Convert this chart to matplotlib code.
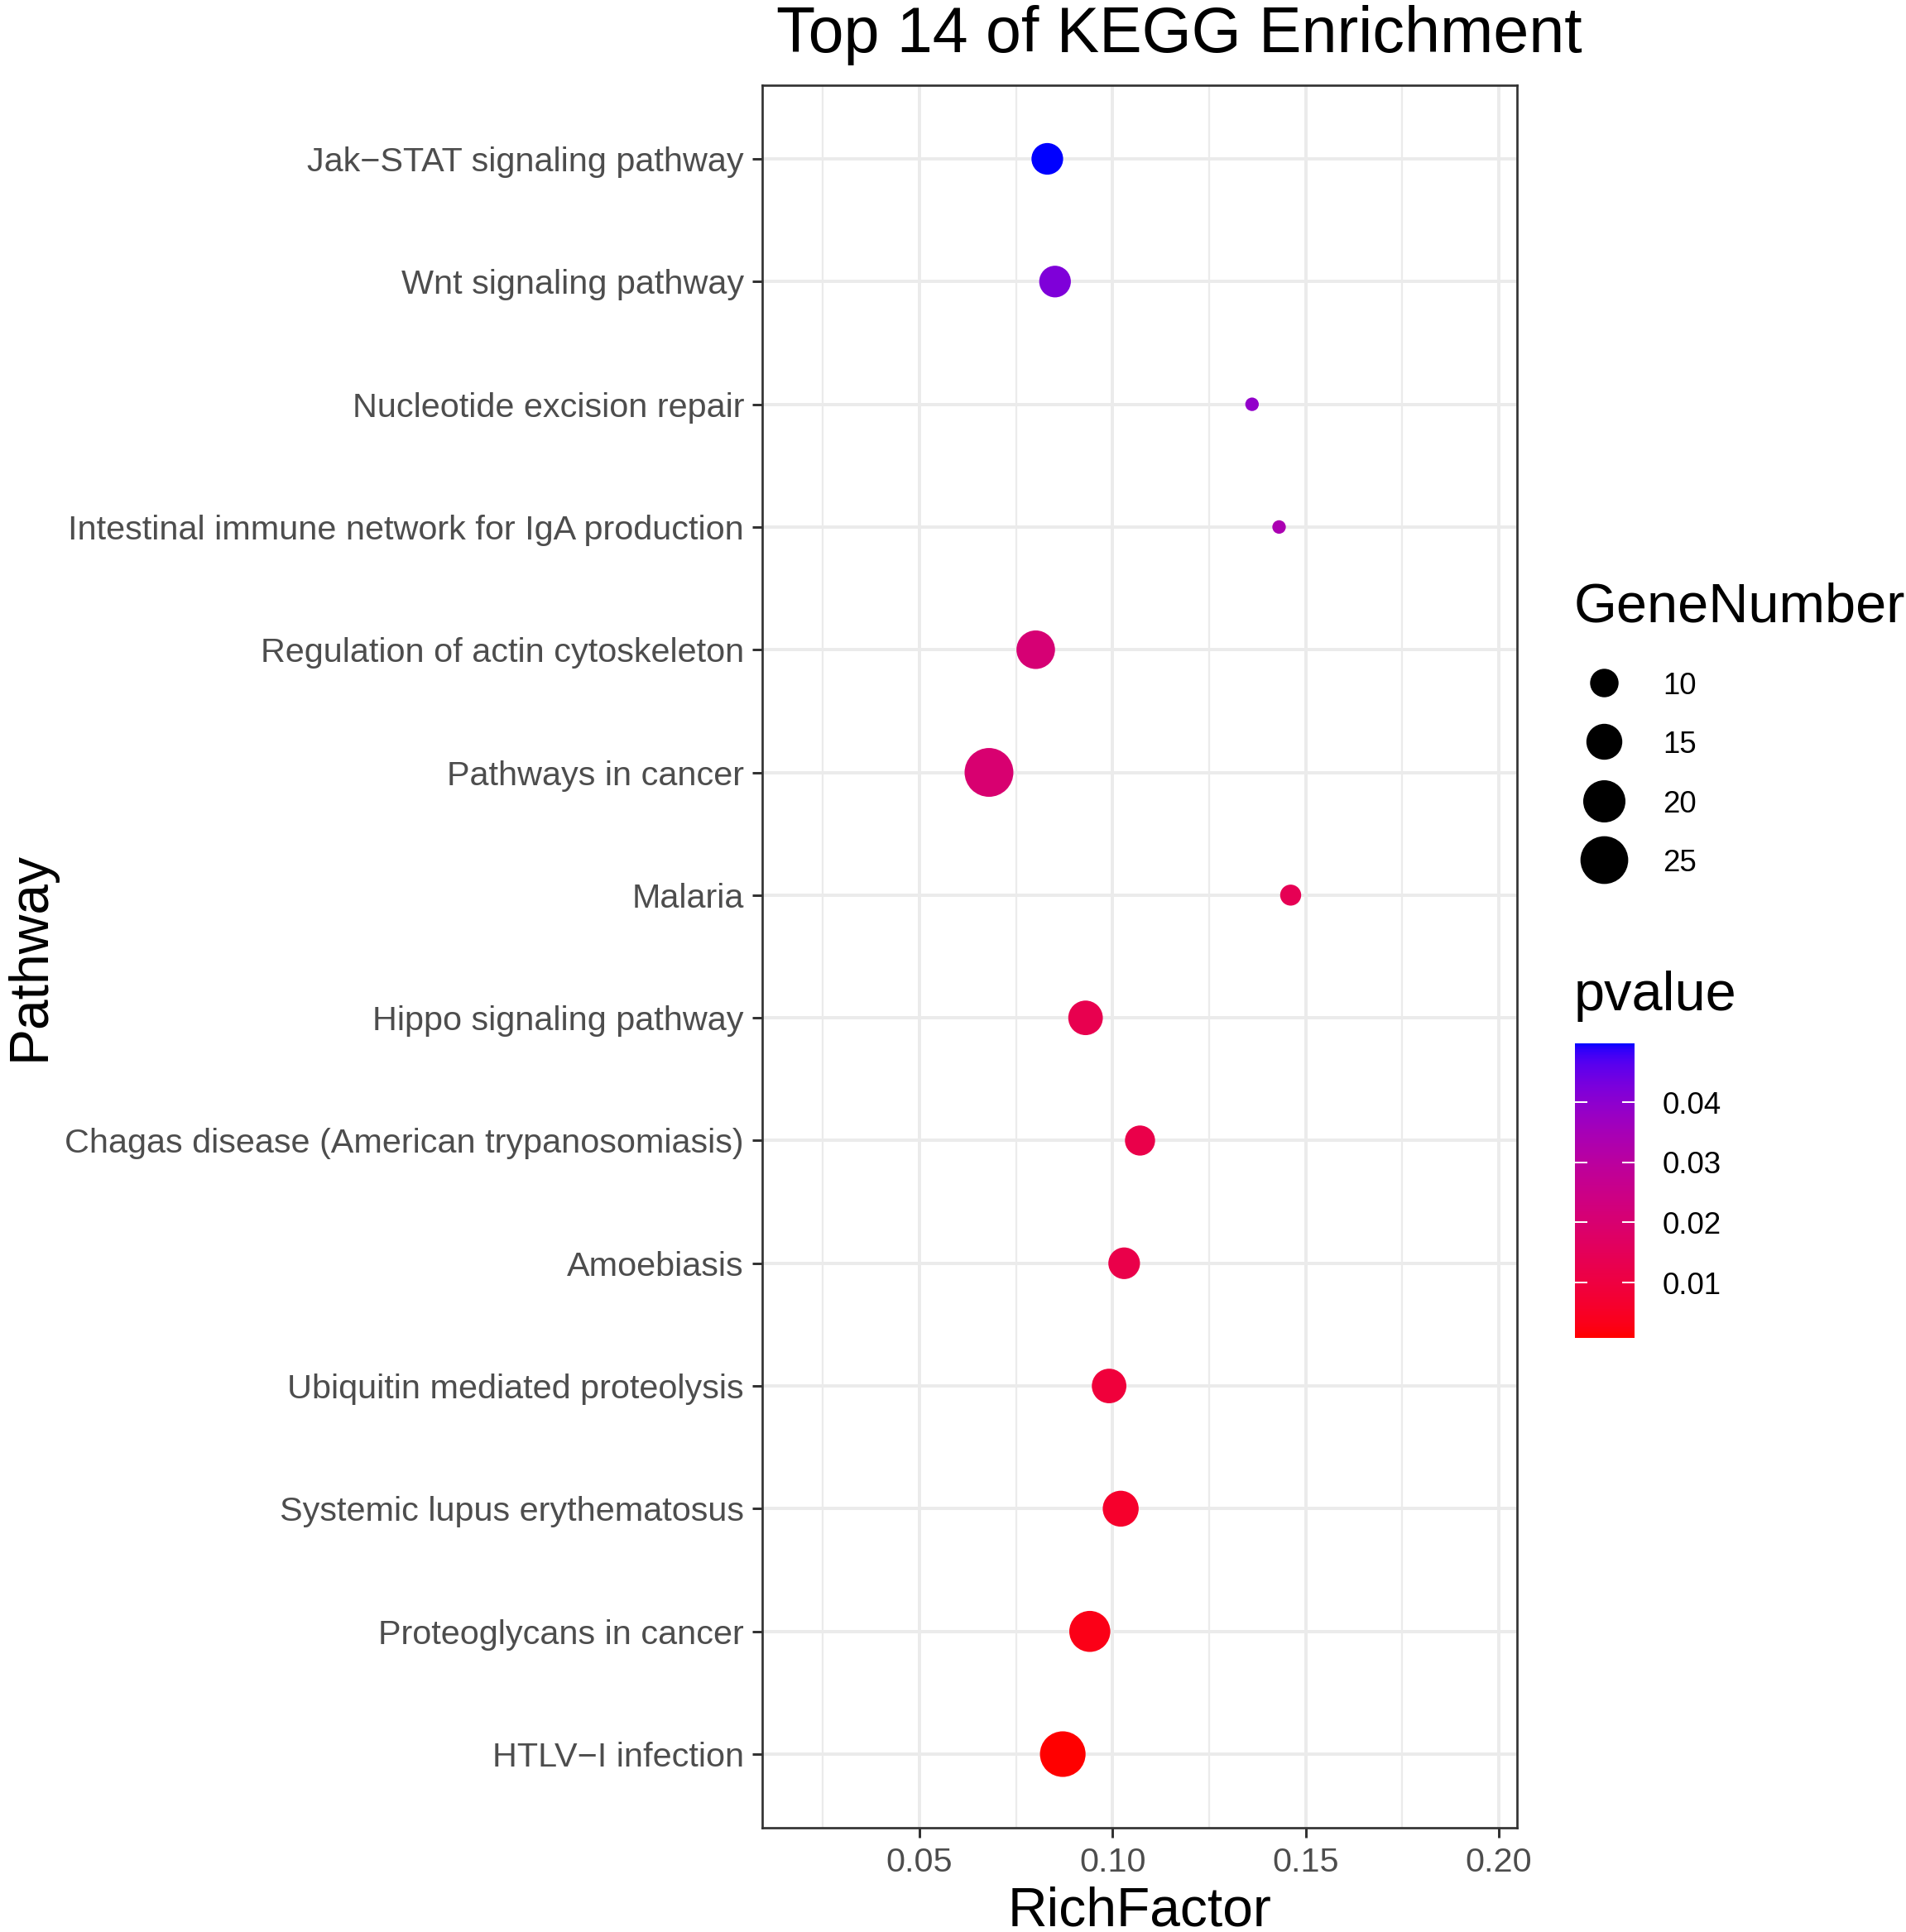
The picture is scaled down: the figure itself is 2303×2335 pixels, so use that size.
import numpy as np
import matplotlib
matplotlib.use("Agg")
import matplotlib.pyplot as plt
from matplotlib.colors import ListedColormap, Normalize
from matplotlib.ticker import MultipleLocator, FormatStrFormatter

plt.rcParams['font.family'] = ['Liberation Sans', 'DejaVu Sans']

# data, top row first
pathway = [
    "Jak\u2212STAT signaling pathway",
    "Wnt signaling pathway",
    "Nucleotide excision repair",
    "Intestinal immune network for IgA production",
    "Regulation of actin cytoskeleton",
    "Pathways in cancer",
    "Malaria",
    "Hippo signaling pathway",
    "Chagas disease (American trypanosomiasis)",
    "Amoebiasis",
    "Ubiquitin mediated proteolysis",
    "Systemic lupus erythematosus",
    "Proteoglycans in cancer",
    "HTLV\u2212I infection",
]
rich_factor = [0.0831, 0.0851, 0.1361, 0.1431, 0.0801, 0.0680, 0.1461,
               0.0930, 0.1071, 0.1030, 0.0991, 0.1021, 0.0941, 0.0871]
gene_number = [12, 12, 3, 3, 17, 26, 6, 14, 11, 12, 14, 15, 19, 23]
pvalue = [0.0498, 0.042, 0.039, 0.034, 0.021, 0.020, 0.014,
          0.013, 0.012, 0.012, 0.009, 0.006, 0.003, 0.00078]

size_breaks = [10, 15, 20, 25]
p_ticks = [0.01, 0.02, 0.03, 0.04]

W, H = 2303, 2335
DPI = 100
PX = 72.0 / DPI   # points per pixel


def to_lab(rgb):
    c = np.asarray(rgb, float)
    lin = np.where(c <= 0.04045, c / 12.92, ((c + 0.055) / 1.055) ** 2.4)
    M = np.array([[0.4124, 0.3576, 0.1805],
                  [0.2126, 0.7152, 0.0722],
                  [0.0193, 0.1192, 0.9505]])
    t = (M @ lin) / np.array([0.95047, 1.0, 1.08883])
    d = 6 / 29
    f = np.where(t > d ** 3, np.cbrt(t), t / (3 * d * d) + 4 / 29)
    return np.array([116 * f[1] - 16, 500 * (f[0] - f[1]), 200 * (f[1] - f[2])])


def from_lab(lab):
    L, a, b = lab
    fy = (L + 16) / 116
    f = np.array([fy + a / 500, fy, fy - b / 200])
    d = 6 / 29
    t = np.where(f > d, f ** 3, 3 * d * d * (f - 4 / 29))
    xyz = t * np.array([0.95047, 1.0, 1.08883])
    Minv = np.array([[3.2406, -1.5372, -0.4986],
                     [-0.9689, 1.8758, 0.0415],
                     [0.0557, -0.2040, 1.0570]])
    lin = np.clip(Minv @ xyz, 0, 1)
    c = np.where(lin <= 0.0031308, 12.92 * lin, 1.055 * lin ** (1 / 2.4) - 0.055)
    return np.clip(c, 0, 1)


# red -> blue gradient interpolated in Lab, like ggplot's scale_colour_gradient
lab_lo, lab_hi = to_lab([1, 0, 0]), to_lab([0, 0, 1])
cmap = ListedColormap([from_lab(lab_lo + (lab_hi - lab_lo) * t)
                       for t in np.linspace(0, 1, 256)])


def diam_px(n):
    # point diameter (pixels) measured from the size legend
    return -5.64 + 12.67 * np.sqrt(np.asarray(n, float))


fig = plt.figure(figsize=(W / DPI, H / DPI), dpi=DPI)
ax = fig.add_axes([921 / W, 1 - 2209 / H, (1833 - 921) / W, (2209 - 103) / H])

ypos = np.arange(len(pathway))
norm = Normalize(vmin=min(pvalue), vmax=max(pvalue))
sc = ax.scatter(rich_factor, ypos, s=(diam_px(gene_number) * PX) ** 2,
                c=pvalue, cmap=cmap, norm=norm, linewidths=0, zorder=3)

ax.set_xlim(0.0093, 0.2047)
ax.set_ylim(len(pathway) - 1 + 0.6, -0.6)
ax.set_yticks(ypos)
ax.set_yticklabels(pathway)
ax.xaxis.set_major_locator(MultipleLocator(0.05))
ax.xaxis.set_minor_locator(MultipleLocator(0.025))
ax.xaxis.set_major_formatter(FormatStrFormatter('%.2f'))

ax.set_axisbelow(True)
ax.grid(which='major', color='#EBEBEB', linewidth=4 * PX)
ax.grid(which='minor', axis='x', color='#EBEBEB', linewidth=2.2 * PX)
for sp in ax.spines.values():
    sp.set_color('#333333')
    sp.set_linewidth(2.7 * PX)
ax.tick_params(which='major', length=12 * PX, width=3 * PX, color='#333333',
               labelsize=29.8, labelcolor='#4D4D4D')
ax.tick_params(axis='y', pad=10 * PX)
ax.tick_params(axis='x', pad=11 * PX)
ax.tick_params(which='minor', length=0)

# titles
fig.text(938 / W, 1 - 63 / H, "Top 14 of KEGG Enrichment", fontsize=55.5,
         ha='left', va='baseline')
fig.text(1377 / W, 1 - 2328 / H, "RichFactor", fontsize=47.5,
         ha='center', va='baseline')
fig.text(54 / W, 1 - 1155 / H, "Pathway", fontsize=47.5, rotation=90,
         rotation_mode='anchor', ha='center', va='baseline')

# size legend
lax = fig.add_axes([0, 0, 1, 1], facecolor='none')
lax.set_xlim(0, W)
lax.set_ylim(H, 0)
lax.axis('off')
lax.text(1902, 751, "GeneNumber", fontsize=48, ha='left', va='baseline')
for i, v in enumerate(size_breaks):
    cy = 825 + i * 71.3
    lax.scatter([1938], [cy], s=(diam_px(v) * PX) ** 2, color='black', linewidths=0)
    lax.text(2009, cy + 14, str(v), fontsize=26.4, ha='left', va='baseline')

# colour legend
lax.text(1902, 1221, "pvalue", fontsize=48, ha='left', va='baseline')
cax = fig.add_axes([1903 / W, 1 - 1617 / H, 72 / W, 356 / H])
cb = fig.colorbar(sc, cax=cax, ticks=p_ticks)
cb.outline.set_visible(False)
cb.ax.yaxis.set_major_formatter(FormatStrFormatter('%.2f'))
cax.tick_params(direction='in', length=15 * PX, width=2 * PX, color='white',
                left=True, right=True, labelleft=False, labelright=True,
                labelsize=26.4, labelcolor='black', pad=34 * PX)

fig.savefig("out.png", dpi=DPI)
